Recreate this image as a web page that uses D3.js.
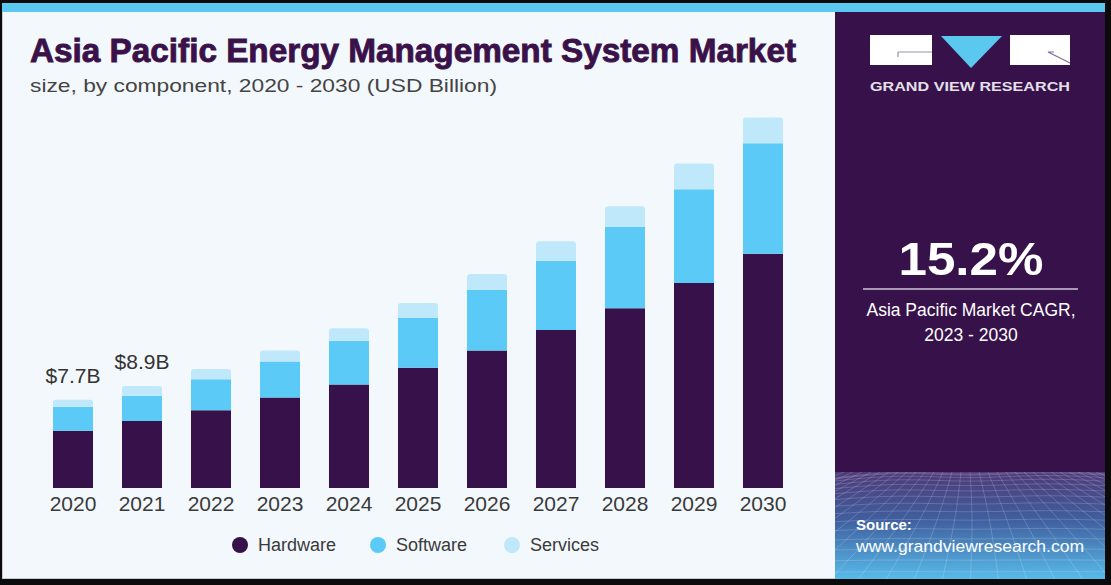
<!doctype html>
<html>
<head>
    <title>Asia Pacific Energy Management System Market</title>
    <script src="https://cdn.jsdelivr.net/npm/d3@7/dist/d3.min.js"></script>
    <style>
        body { margin: 0; background: #0b0b0b; }
        svg { display: block; }
    </style>
</head>
<body>
    <script>
        // data (USD Billion)
        var years = ["2020", "2021", "2022", "2023", "2024", "2025", "2026", "2027", "2028", "2029", "2030"];
        var hardware = [5.0, 5.85, 6.8, 7.9, 9.05, 10.5, 12.0, 13.8, 15.7, 17.9, 20.45];
        var software = [2.1, 2.2, 2.7, 3.15, 3.8, 4.35, 5.3, 6.05, 7.1, 8.2, 9.65];
        var services = [0.6, 0.85, 0.9, 0.95, 1.1, 1.3, 1.4, 1.7, 1.8, 2.25, 2.25];
        var seriesNames = ["Hardware", "Software", "Services"];
        var seriesColors = ["#371149", "#5ccaf6", "#bfe9fa"];
        var valueLabels = [{ year: "2020", text: "$7.7B" }, { year: "2021", text: "$8.9B" }];

        var W = 1111, H = 585;
        var svg = d3.select("body").append("svg").attr("width", W).attr("height", H);

        // frame
        svg.append("rect").attr("width", W).attr("height", H).attr("fill", "#0b0b0b");
        svg.append("rect").attr("x", 2).attr("y", 3).attr("width", 834).attr("height", 576).attr("fill", "#c8ccd0");
        svg.append("rect").attr("x", 3).attr("y", 3).attr("width", 833).attr("height", 575).attr("fill", "#f3f8fc");
        svg.append("rect").attr("x", 835).attr("y", 3).attr("width", 270).attr("height", 576).attr("fill", "#371149");
        svg.append("rect").attr("x", 2).attr("y", 3).attr("width", 1103).attr("height", 9).attr("fill", "#5bc8f0");

        // title
        svg.append("text").attr("x", 30).attr("y", 62)
            .attr("font-family", "Liberation Sans, Arial, sans-serif").attr("font-weight", 900)
            .attr("font-size", 34).attr("fill", "#3a1249")
            .attr("stroke", "#3a1249").attr("stroke-width", 0.9)
            .attr("textLength", 766).attr("lengthAdjust", "spacingAndGlyphs")
            .text("Asia Pacific Energy Management System Market");
        svg.append("text").attr("x", 30).attr("y", 92)
            .attr("font-family", "Liberation Sans, Arial, sans-serif")
            .attr("font-size", 18.5).attr("fill", "#444")
            .attr("textLength", 467).attr("lengthAdjust", "spacingAndGlyphs")
            .text("size, by component, 2020 - 2030 (USD Billion)");

        // scales
        var x = d3.scaleBand().domain(years).range([38.5, 797.5]).paddingInner(0.42).paddingOuter(0.21);
        var y = d3.scaleLinear().domain([0, 35]).range([488, 488 - 35 * 11.45]);

        var table = years.map(function (yr, i) {
            return { year: yr, Hardware: hardware[i], Software: software[i], Services: services[i] };
        });
        var stack = d3.stack().keys(seriesNames)(table);

        var g = svg.append("g");
        stack.forEach(function (layer, li) {
            g.selectAll(null).data(layer).enter().append("path")
                .attr("fill", seriesColors[li])
                .attr("d", function (d) {
                    var x0 = x(d.data.year), w = x.bandwidth();
                    var yt = y(d[1]), yb = y(d[0]);
                    var r = li === 2 ? 3 : 0;
                    return "M" + x0 + "," + yb + "V" + (yt + r) +
                        "Q" + x0 + "," + yt + "," + (x0 + r) + "," + yt +
                        "H" + (x0 + w - r) +
                        "Q" + (x0 + w) + "," + yt + "," + (x0 + w) + "," + (yt + r) +
                        "V" + yb + "Z";
                });
        });

        // x axis
        var xAxis = svg.append("g").attr("transform", "translate(0,488)")
            .call(d3.axisBottom(x).tickSize(0).tickPadding(8));
        xAxis.select(".domain").remove();
        xAxis.selectAll("text").attr("font-family", "Liberation Sans, Arial, sans-serif")
            .attr("font-size", 21).attr("fill", "#3a3a3a").attr("dy", "0.71em");

        // value labels
        svg.selectAll(".vlab").data(valueLabels).enter().append("text")
            .attr("class", "vlab")
            .attr("x", function (d) { return x(d.year) + x.bandwidth() / 2; })
            .attr("y", function (d, i) { return y(hardware[i] + software[i] + services[i]) - 17; })
            .attr("text-anchor", "middle")
            .attr("font-family", "Liberation Sans, Arial, sans-serif")
            .attr("font-size", 21).attr("fill", "#333")
            .text(function (d) { return d.text; });

        // legend
        var legX = [240, 378, 512];
        var leg = svg.selectAll(".leg").data(seriesNames).enter().append("g")
            .attr("transform", function (d, i) { return "translate(" + legX[i] + ",545)"; });
        leg.append("circle").attr("r", 8).attr("fill", function (d, i) { return seriesColors[i]; });
        leg.append("text").attr("x", 18).attr("y", 6)
            .attr("font-family", "Liberation Sans, Arial, sans-serif")
            .attr("font-size", 18).attr("fill", "#3a3a3a")
            .text(function (d) { return d; });

        // right panel: logo
        svg.append("rect").attr("x", 870).attr("y", 35).attr("width", 62).attr("height", 30).attr("fill", "#fff");
        svg.append("path").attr("d", "M898,52H932M898,52V57").attr("stroke", "#9b8fb0").attr("stroke-width", 1.2).attr("fill", "none");
        svg.append("path").attr("d", "M941,36H1002L971,68Z").attr("fill", "#5bc8f0");
        svg.append("rect").attr("x", 1010).attr("y", 35).attr("width", 60).attr("height", 30).attr("fill", "#fff");
        svg.append("path").attr("d", "M1048,52L1070,63M1048,52H1054").attr("stroke", "#7f6b99").attr("stroke-width", 1.2).attr("fill", "none");
        svg.append("text").attr("x", 870).attr("y", 91)
            .attr("font-family", "Liberation Sans, Arial, sans-serif").attr("font-weight", "bold")
            .attr("font-size", 13).attr("fill", "#e4e0ea")
            .attr("textLength", 200).attr("lengthAdjust", "spacingAndGlyphs")
            .text("GRAND VIEW RESEARCH");

        // CAGR block
        svg.append("text").attr("x", 971).attr("y", 275).attr("text-anchor", "middle")
            .attr("font-family", "Liberation Sans, Arial, sans-serif").attr("font-weight", "bold")
            .attr("font-size", 47).attr("fill", "#fff")
            .attr("textLength", 145).attr("lengthAdjust", "spacingAndGlyphs")
            .text("15.2%");
        svg.append("line").attr("x1", 863).attr("x2", 1078).attr("y1", 289).attr("y2", 289)
            .attr("stroke", "#cfc6da").attr("stroke-width", 1.5);
        svg.append("text").attr("x", 971).attr("y", 316).attr("text-anchor", "middle")
            .attr("font-family", "Liberation Sans, Arial, sans-serif")
            .attr("font-size", 17.5).attr("fill", "#fff")
            .text("Asia Pacific Market CAGR,");
        svg.append("text").attr("x", 971).attr("y", 341).attr("text-anchor", "middle")
            .attr("font-family", "Liberation Sans, Arial, sans-serif")
            .attr("font-size", 17.5).attr("fill", "#fff")
            .text("2023 - 2030");

        // bottom mesh with gradient
        var defs = svg.append("defs");
        var grad = defs.append("linearGradient").attr("id", "mesh").attr("x1", 0).attr("y1", 0).attr("x2", 0).attr("y2", 1);
        grad.append("stop").attr("offset", "0%").attr("stop-color", "#4e3a78");
        grad.append("stop").attr("offset", "45%").attr("stop-color", "#405f9f");
        grad.append("stop").attr("offset", "100%").attr("stop-color", "#58bbea");
        defs.append("clipPath").attr("id", "meshclip").append("rect")
            .attr("x", 835).attr("y", 472).attr("width", 270).attr("height", 107);
        svg.append("rect").attr("x", 835).attr("y", 472).attr("width", 270).attr("height", 107).attr("fill", "url(#mesh)");
        var mesh = svg.append("g").attr("clip-path", "url(#meshclip)")
            .attr("stroke", "#ffffff").attr("stroke-opacity", 0.22).attr("stroke-width", 0.8).attr("fill", "none");
        var line = d3.line().curve(d3.curveBasis);
        var rows = d3.range(0, 16);
        rows.forEach(function (k) {
            var t = k / 15;
            var yy = 474 + 110 * Math.pow(t, 1.7);
            var wave = 4 * (1 - t);
            mesh.append("path").attr("d", line([[835, yy + wave], [900, yy - wave], [970, yy + wave * 0.5], [1040, yy - wave], [1105, yy]]));
        });
        d3.range(-20, 21).forEach(function (k) {
            var xTop = 970 + k * 9;
            var xBot = 970 + k * 30;
            mesh.append("path").attr("d", line([[xTop, 472], [xTop + (xBot - xTop) * 0.4 + 3, 520], [xBot, 590]]));
        });

        svg.append("text").attr("x", 856).attr("y", 530)
            .attr("font-family", "Liberation Sans, Arial, sans-serif").attr("font-weight", "bold")
            .attr("font-size", 15).attr("fill", "#fff")
            .text("Source:");
        svg.append("text").attr("x", 856).attr("y", 552)
            .attr("font-family", "Liberation Sans, Arial, sans-serif")
            .attr("font-size", 16).attr("fill", "#fff")
            .attr("textLength", 228).attr("lengthAdjust", "spacingAndGlyphs")
            .text("www.grandviewresearch.com");
    </script>
</body>
</html>
